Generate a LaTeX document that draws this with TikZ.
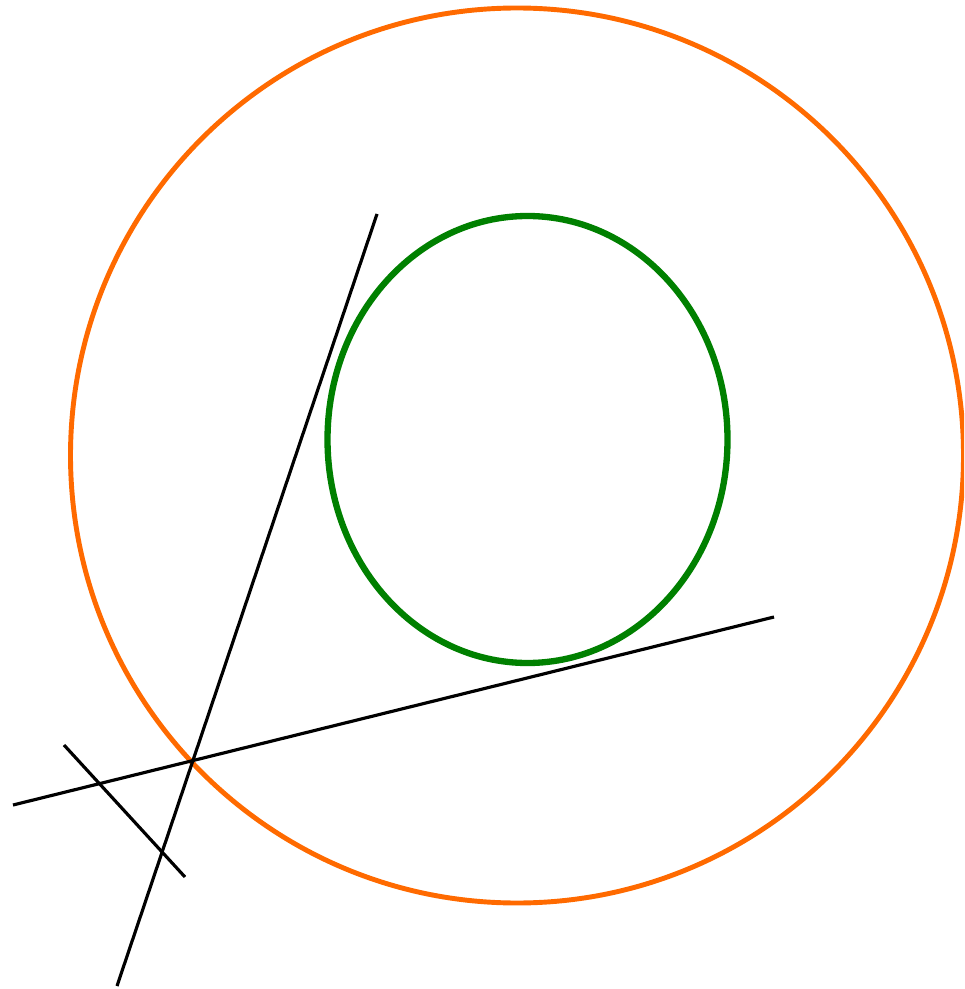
\documentclass[tikz,border=0pt]{standalone}
\usepackage{xcolor}
\usepackage{tikz}
\usetikzlibrary{calc}

\definecolor{outerorange}{HTML}{FF6A00}
\definecolor{innergreen}{HTML}{008000}

\begin{document}
\begin{tikzpicture}[
    x=0.02cm, y=-0.02cm,
    outer/.style={draw=outerorange, line width=2.8pt},
    inner/.style={draw=innergreen, line width=3.6pt},
    tangent/.style={draw=black, line width=1.8pt}
]
\clip (0,0) rectangle (964,989);

% circles
\coordinate (oc) at (517,455.5);
\coordinate (ic) at (527.5,439.5);
\draw[outer] (oc) circle [x radius=446.5, y radius=447.5];
\draw[inner] (ic) ellipse [x radius=200, y radius=223.5];

% lines
\coordinate (a1) at (377,214);
\coordinate (a2) at (117,986);
\coordinate (b1) at (13,805);
\coordinate (b2) at (774,617);
\coordinate (c1) at (64,745);
\coordinate (c2) at (185,877);

\draw[tangent] (a1) -- (a2);
\draw[tangent] (b1) -- (b2);
\draw[tangent] (c1) -- (c2);
\end{tikzpicture}
\end{document}
